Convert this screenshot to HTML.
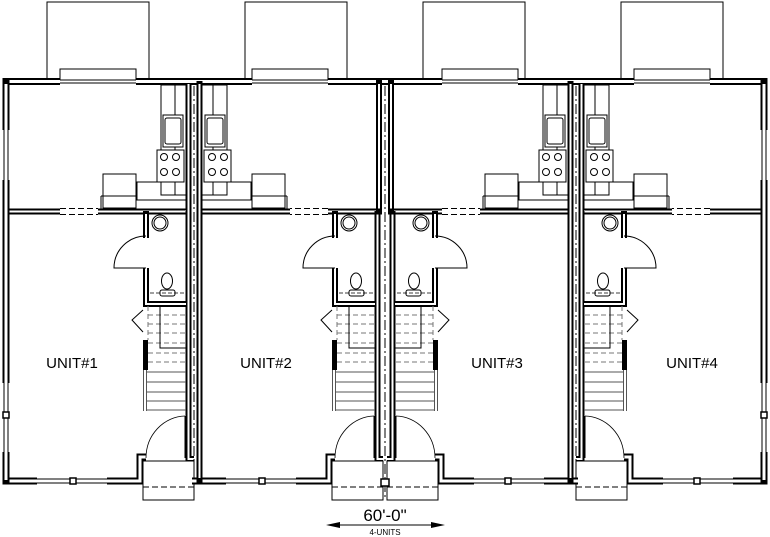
<!DOCTYPE html>
<html><head><meta charset="utf-8"><style>
html,body{margin:0;padding:0;background:#fff;}
svg{display:block;}
text{font-family:"Liberation Sans",sans-serif;fill:#000;}
</style></head><body>
<svg width="770" height="537" viewBox="0 0 770 537" xmlns="http://www.w3.org/2000/svg">
<defs>
<!-- upper part (kitchen) -->
<g id="U" fill="none" stroke="#000">
  <rect x="60" y="69" width="76" height="11" fill="#fff" stroke-width="1"/>
  <line x1="60" y1="80" x2="136" y2="80" stroke-width="1"/>
  <line x1="60" y1="83" x2="136" y2="83" stroke-width="1"/>
  <polyline points="3,81.5 60,81.5" stroke-width="7"/>
  <polyline points="136,81.5 194,81.5" stroke-width="7"/>
  <polyline points="188.5,81 188.5,212" stroke-width="6"/>
  <polyline points="6,211.5 60,211.5" stroke-width="6"/>
  <polyline points="98,211.5 188,211.5" stroke-width="6"/>
  <g stroke="#fff">
    <polyline points="3,81.5 60,81.5" stroke-width="3"/>
    <polyline points="136,81.5 194,81.5" stroke-width="3"/>
    <polyline points="188.5,84 188.5,212" stroke-width="2"/>
    <polyline points="9,211.5 60,211.5" stroke-width="2"/>
    <polyline points="98,211.5 186,211.5" stroke-width="2"/>
  </g>
  <line x1="60" y1="208.5" x2="98" y2="208.5" stroke-width="1" stroke-dasharray="6,3"/>
  <line x1="60" y1="214.5" x2="98" y2="214.5" stroke-width="1" stroke-dasharray="6,3"/>
  <rect x="161" y="85" width="25" height="110" stroke-width="1"/>
  <line x1="175" y1="85" x2="175" y2="195" stroke-width="1"/>
  <rect x="163" y="115" width="20" height="32" stroke-width="1" fill="#fff"/>
  <rect x="165" y="118" width="16" height="26" rx="2" stroke-width="1"/>
  <rect x="157" y="150" width="27" height="32" stroke-width="1" fill="#fff"/>
  <circle cx="164" cy="157" r="3.5" stroke-width="1"/>
  <circle cx="176" cy="157" r="3.5" stroke-width="1"/>
  <circle cx="164" cy="172" r="3.5" stroke-width="1"/>
  <circle cx="176" cy="172" r="3.5" stroke-width="1"/>
  <polyline points="157,182 137,182 137,200 186,200" stroke-width="1"/>
  <rect x="103" y="174" width="33" height="34" stroke-width="1" fill="#fff"/>
  <line x1="101" y1="196" x2="137" y2="196" stroke-width="1"/>
  <line x1="101" y1="196" x2="101" y2="209" stroke-width="1"/>
</g>
<!-- lower part (bath, stairs, entry) -->
<g id="L" fill="none" stroke="#000">
  <polyline points="3,481 37,481" stroke-width="7"/>
  <polyline points="107,481 140,481 140,457 146,457" stroke-width="7"/>
  <polyline points="188.5,211 188.5,459 194,459" stroke-width="6"/>
  <polyline points="146,211 146,238" stroke-width="6"/>
  <polyline points="146,268 146,304 188,304" stroke-width="6"/>
  <polyline points="145.5,340 145.5,370" stroke-width="5"/>
  <g stroke="#fff">
    <polyline points="3,481 37,481" stroke-width="3"/>
    <polyline points="107,481 140,481 140,457 146,457" stroke-width="3"/>
    <polyline points="188.5,211 188.5,459 194,459" stroke-width="2"/>
    <polyline points="146,214 146,238" stroke-width="2"/>
    <polyline points="146,268 146,304 186,304" stroke-width="2"/>
  </g>
  <line x1="37" y1="479" x2="107" y2="479" stroke-width="1"/>
  <line x1="37" y1="483" x2="107" y2="483" stroke-width="1"/>
  <rect x="70" y="478" width="6" height="6" stroke-width="1.5" fill="#fff"/>
  <circle cx="160" cy="223" r="8" stroke-width="1"/>
  <circle cx="160" cy="223" r="6" stroke-width="1"/>
  <path d="M146,236 A32,32 0 0 0 114,268 L146,268" stroke-width="1"/>
  <ellipse cx="167" cy="281" rx="5.5" ry="8" stroke-width="1"/>
  <rect x="160" y="290" width="15" height="6" rx="2" stroke-width="1" fill="#fff"/>
  <line x1="150" y1="293" x2="186" y2="293" stroke-width="0.8" stroke-dasharray="4,2"/>
  <g stroke-width="1" stroke="#777" stroke-dasharray="5,3">
    <line x1="148" y1="315" x2="186" y2="315"/>
    <line x1="148" y1="324" x2="186" y2="324"/>
    <line x1="148" y1="333" x2="186" y2="333"/>
    <line x1="148" y1="343" x2="186" y2="343"/>
    <line x1="148" y1="353" x2="186" y2="353"/>
    <line x1="148" y1="362" x2="186" y2="362"/>
    <line x1="148" y1="306" x2="148" y2="340"/>
  </g>
  <g stroke-width="1" stroke="#555">
    <line x1="147" y1="372" x2="186" y2="372"/>
    <line x1="147" y1="382" x2="186" y2="382"/>
    <line x1="147" y1="392" x2="186" y2="392"/>
    <line x1="147" y1="401" x2="186" y2="401"/>
    <line x1="147" y1="410" x2="186" y2="410"/>
    <line x1="143.5" y1="370" x2="143.5" y2="411"/>
    <line x1="146.5" y1="370" x2="146.5" y2="411"/>
  </g>
  <polyline points="160,306 160,348 186,348" stroke-width="1"/>
  <polyline points="143,310 132,320 143,332" stroke-width="1"/>
  <path d="M185,416 A40,42 0 0 0 146,458" stroke-width="0.8"/>
  <line x1="185" y1="416" x2="185" y2="458" stroke-width="1"/>
  <rect x="143" y="461" width="51" height="39" stroke-width="1" fill="#fff"/>
  <line x1="143" y1="487" x2="194" y2="487" stroke-width="1" stroke-dasharray="6,3"/>
</g>
<g id="H" fill="none" stroke="#000">
  <!-- patios -->
  <rect x="47" y="2" width="102" height="77" stroke-width="1"/>
  <rect x="245" y="2" width="102" height="77" stroke-width="1"/>
  <use href="#U"/>
  <use href="#L"/>
  <use href="#U" transform="translate(388,0) scale(-1,1)"/>
  <use href="#L" transform="translate(189,0)"/>
  <!-- unit1 outer left wall -->
  <polyline points="6,78 6,130" stroke-width="7"/>
  <polyline points="6,180 6,383" stroke-width="7"/>
  <polyline points="6,452 6,484.5" stroke-width="7"/>
  <g stroke="#fff">
    <polyline points="6,84 6,130" stroke-width="3"/>
    <polyline points="6,180 6,383" stroke-width="3"/>
    <polyline points="6,452 6,480" stroke-width="3"/>
  </g>
  <line x1="4" y1="130" x2="4" y2="180" stroke-width="1"/>
  <line x1="8" y1="130" x2="8" y2="180" stroke-width="1"/>
  <line x1="4" y1="383" x2="4" y2="452" stroke-width="1"/>
  <line x1="8" y1="383" x2="8" y2="452" stroke-width="1"/>
  <rect x="3" y="412" width="6" height="6" stroke-width="1.5" fill="#fff"/>
  <!-- unit2 left wall and upper right wall -->
  <polyline points="199.5,81 199.5,484" stroke-width="6"/>
  <polyline points="199.5,84 199.5,478" stroke="#fff" stroke-width="2"/>
  <polyline points="379,78 379,214" stroke-width="6"/>
  <polyline points="379,84 379,214" stroke="#fff" stroke-width="2"/>
  <line x1="376" y1="211.5" x2="382" y2="211.5" stroke-width="6"/>
</g>
</defs>
<use href="#H"/>
<use href="#H" transform="translate(770,0) scale(-1,1)"/>
<g stroke="#000" stroke-width="1" stroke-dasharray="10,3,2,3" fill="none">
  <line x1="194" y1="86" x2="194" y2="478"/>
  <line x1="385" y1="86" x2="385" y2="500"/>
  <line x1="576" y1="86" x2="576" y2="478"/>
</g>
<rect x="381" y="479" width="8" height="7" fill="#fff" stroke="#000" stroke-width="1.5"/>
<text x="72" y="368" font-size="15" text-anchor="middle">UNIT#1</text>
<text x="266" y="368" font-size="15" text-anchor="middle">UNIT#2</text>
<text x="497" y="368" font-size="15" text-anchor="middle">UNIT#3</text>
<text x="692" y="368" font-size="15" text-anchor="middle">UNIT#4</text>
<text x="385" y="521" font-size="17" text-anchor="middle">60'-0"</text>
<line x1="333" y1="525" x2="438" y2="525" stroke="#000" stroke-width="1"/>
<polygon points="326,525 340,522 340,528" fill="#000"/>
<polygon points="445,525 431,522 431,528" fill="#000"/>
<text x="385" y="535" font-size="8" text-anchor="middle">4-UNITS</text>
</svg>
</body></html>
